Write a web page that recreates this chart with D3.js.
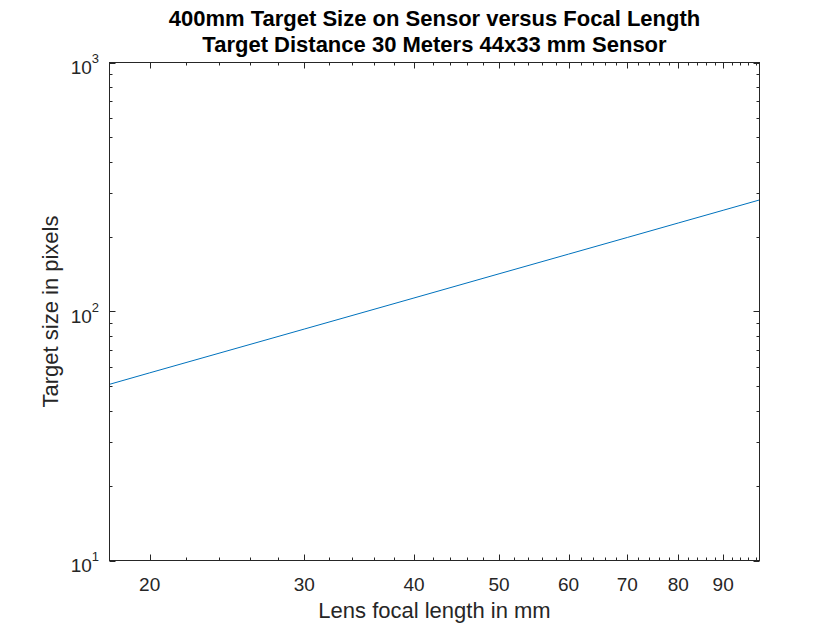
<!DOCTYPE html>
<html>
<head>
<meta charset="utf-8">
<script src="https://cdn.jsdelivr.net/npm/d3@7"></script>
<style>
  html, body { margin: 0; padding: 0; background: #fff; }
  svg { display: block; }
  text { font-family: "Liberation Sans", Arial, Helvetica, sans-serif; }
</style>
</head>
<body>
<div id="chart"></div>
<script>
// ---- data ----
const focalLength  = [18, 20, 30, 40, 50, 60, 70, 80, 90, 99];          // mm
const targetPixels = [51.0, 56.7, 85.0, 113.3, 141.7, 170.0, 198.3, 226.7, 255.0, 280.5];
const xTickValues  = [20, 30, 40, 50, 60, 70, 80, 90];
const xTickLabels  = ["20", "30", "40", "50", "60", "70", "80", "90"];
const yTickValues  = [10, 100, 1000];
const yTickExponents = ["1", "2", "3"];
const titleLines = ["400mm Target Size on Sensor versus Focal Length",
                    "Target Distance 30 Meters 44x33 mm Sensor"];
const xLabel = "Lens focal length in mm";
const yLabel = "Target size in pixels";

const W = 840, H = 630;
const axL = 109.5, axR = 759.5, axT = 62.5, axB = 560.5;
const ink = "#262626";

const svg = d3.select("#chart").append("svg")
  .attr("width", W).attr("height", H);

const x = d3.scaleLog().domain([18, 99]).range([axL, axR]);
const y = d3.scaleLog().domain([10, 1000]).range([axB, axT]);

// minor tick positions
const xMinor = d3.range(22, 99, 2).filter(v => v % 10 !== 0);
const yMinor = [];
[10, 100].forEach(d => { for (let k = 2; k <= 9; k++) yMinor.push(d * k); });

const g = svg.append("g");

// line
g.append("path")
  .datum(focalLength.map((f, i) => [f, targetPixels[i]]))
  .attr("fill", "none")
  .attr("stroke", "#0072BD")
  .attr("stroke-width", 1)
  .attr("d", d3.line().x(d => x(d[0])).y(d => y(d[1])));

// ticks (inward, on all four sides)
const major = 6, minor = 3;
const tickG = g.append("g").attr("stroke", ink).attr("stroke-width", 1);
function xTicks(vals, len) {
  vals.forEach(v => {
    const px = Math.round(x(v)) + 0.5;
    tickG.append("line").attr("x1", px).attr("x2", px).attr("y1", axB).attr("y2", axB - len);
    tickG.append("line").attr("x1", px).attr("x2", px).attr("y1", axT).attr("y2", axT + len);
  });
}
function yTicks(vals, len) {
  vals.forEach(v => {
    const py = Math.round(y(v)) + 0.5;
    tickG.append("line").attr("y1", py).attr("y2", py).attr("x1", axL).attr("x2", axL + len);
    tickG.append("line").attr("y1", py).attr("y2", py).attr("x1", axR).attr("x2", axR - len);
  });
}
xTicks(xTickValues, major);
xTicks(xMinor, minor);
yTicks(yTickValues, major);
yTicks(yMinor, minor);

// box
g.append("rect")
  .attr("x", axL).attr("y", axT)
  .attr("width", axR - axL).attr("height", axB - axT)
  .attr("fill", "none").attr("stroke", ink).attr("stroke-width", 1);

// x tick labels
g.selectAll(".xl").data(xTickValues).enter().append("text")
  .attr("x", d => x(d)).attr("y", axB + 30)
  .attr("text-anchor", "middle")
  .attr("font-size", 19).attr("fill", ink)
  .text((d, i) => xTickLabels[i]);

// y tick labels (10^n)
yTickValues.forEach((v, i) => {
  const t = g.append("text")
    .attr("x", 99).attr("y", y(v) + 11)
    .attr("text-anchor", "end")
    .attr("fill", ink);
  t.append("tspan").attr("font-size", 19).text("10");
  t.append("tspan").attr("font-size", 13).attr("dy", -11).text(yTickExponents[i]);
});

// axis labels
g.append("text")
  .attr("x", (axL + axR) / 2).attr("y", 618)
  .attr("text-anchor", "middle")
  .attr("font-size", 22).attr("fill", ink)
  .text(xLabel);

g.append("text")
  .attr("transform", `translate(58,${(axT + axB) / 2}) rotate(-90)`)
  .attr("text-anchor", "middle")
  .attr("font-size", 22).attr("fill", ink)
  .text(yLabel);

// title
titleLines.forEach((s, i) => {
  g.append("text")
    .attr("x", (axL + axR) / 2).attr("y", 26 + i * 26)
    .attr("text-anchor", "middle")
    .attr("font-size", 22).attr("font-weight", "bold").attr("fill", "#000")
    .text(s);
});
</script>
</body>
</html>
